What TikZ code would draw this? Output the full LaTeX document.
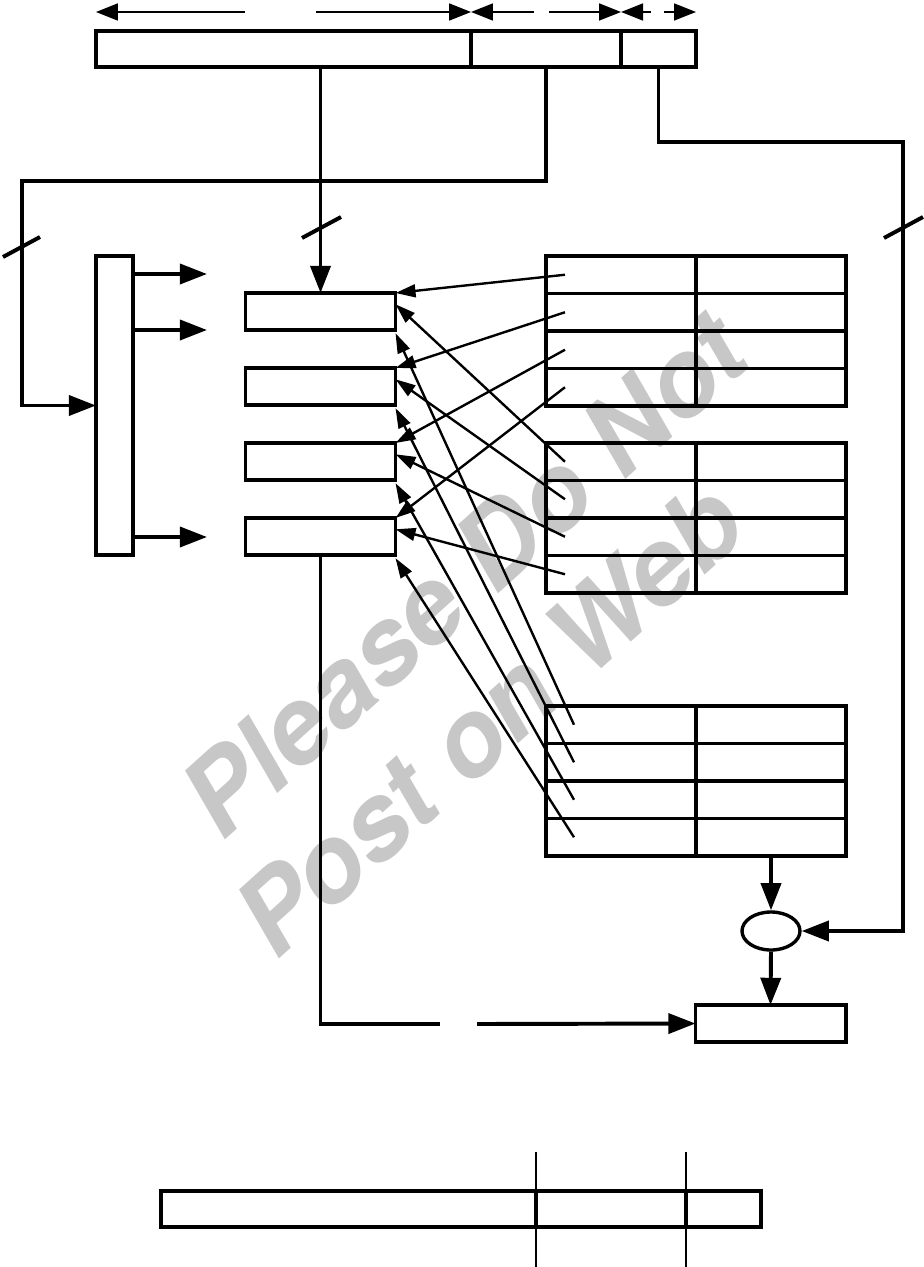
\documentclass[tikz,border=0pt]{standalone}
\usepackage{fontspec}
\usepackage{tikz}
\usetikzlibrary{arrows.meta,shapes.geometric}
\newfontfamily\wmfont{TeX Gyre Heros}

\begin{document}
\begin{tikzpicture}[x=0.025cm, y=-0.025cm, line join=miter,
  bus/.style={line width=2.8pt, >={Triangle[length=0.68cm,width=0.5cm]}},
  dimline/.style={line width=1.7pt, >={Triangle[length=0.55cm,width=0.42cm]}},
  feed/.style={line width=1.7pt, >={Triangle[length=0.5cm,width=0.32cm]}, ->},
  field/.style={draw, line width=2.8pt, minimum height=0.9cm, inner sep=0pt, outer sep=0pt},
  slot/.style={draw, line width=2.8pt, minimum width=3.75cm, minimum height=0.925cm, inner sep=0pt, outer sep=0pt},
  cell/.style={slot, minimum height=0.9375cm},
  watermark/.style={text=black!22, rotate=42, inner sep=0pt, anchor=base west,
    font=\wmfont\bfseries\itshape\fontsize{76}{80}\selectfont}]

\useasboundingbox (0,0) rectangle (924,1267);

% Watermark
\node[watermark] (wm1) at (222,843) {Please Do Not};
\node[watermark] (wm2) at (276,962) {Post on Web};

% Address fields
\node[field, minimum width=9.375cm] (tag) at (283.5,49) {};
\node[field, minimum width=3.75cm] (idx) at (546,49) {};
\node[field, minimum width=1.875cm] (off) at (658.5,49) {};

% Field widths
\coordinate (g1) at (245,12);
\coordinate (g2) at (316,12);
\coordinate (g3) at (534,12);
\coordinate (g4) at (549,12);
\coordinate (g5) at (651,12);
\coordinate (g6) at (664,12);
\draw[dimline, <-] (tag.west |- g1) -- (g1);
\draw[dimline, ->] (g2) -- (tag.east |- g2);
\draw[dimline, <-] (idx.west |- g3) -- (g3);
\draw[dimline, ->] (g4) -- (idx.east |- g4);
\draw[dimline, <-] (off.west |- g5) -- (g5);
\draw[dimline, ->] (g6) -- (off.east |- g6);

% Decoder
\node[draw, line width=2.8pt, minimum width=0.925cm, minimum height=7.475cm,
  inner sep=0pt, outer sep=0pt] (dec) at (114.5,405.5) {};
\coordinate (o1) at (207,274);
\coordinate (o2) at (207,330);
\coordinate (o3) at (207,537);
\foreach \o in {o1,o2,o3}
  \draw[bus, ->] (dec.east |- \o) -- (\o);

% Selected slots
\foreach \i in {1,...,4}
  \node[slot] (b\i) at (320.5,{236.5+75*\i}) {};

% Tables
\foreach \tb/\ty in {1/256,2/443,3/706}
  \foreach \r in {1,...,4} {
    \node[cell] (t\tb-a\r) at (621,{\ty+37.5*\r-18.75}) {};
    \node[cell] (t\tb-b\r) at (771,{\ty+37.5*\r-18.75}) {};
  }

\foreach \i in {1,...,4} {
  \draw[feed] ([xshift=-1.4cm]t1-a\i.center) -- (b\i.north east);
  \draw[feed] ([xshift=-1.4cm]t2-a\i.center) -- ([yshift=0.18cm]b\i.east);
  \draw[feed] ([xshift=-1.175cm]t3-a\i.center) -- ([yshift=-0.08cm]b\i.south east);
}

% Compare and result
\node[draw, ellipse, line width=2.4pt, minimum width=1.45cm, minimum height=0.95cm,
  inner sep=0pt] (cmp) at (771,931) {};
\node[slot] (res) at (770.5,1023.5) {};
\draw[bus, ->] (t3-b4.south) -- (cmp.north);
\draw[bus, ->] (cmp.south) -- (res.north);

% Buses from the fields
\coordinate (lk) at (22,181);
\coordinate (rk) at (903,142);
\draw[bus, ->] (tag.south -| b1.north) -- (b1.north);
\draw[bus, ->] (idx.south) |- (lk) |- (dec.west);
\draw[bus, ->] (off.south) |- (rk) |- (cmp.east);

% Slashes on the buses
\draw[bus] (302,238) -- (341,217);
\draw[bus] (3,257) -- (40,237);
\draw[bus] (884,238) -- (923,217);

% Slot to result
\coordinate (ga) at (440,1024);
\coordinate (gb) at (477,1024);
\draw[bus] (b4.south) |- (ga);
\draw[bus, ->] (gb) -- (res.west);

% Second address
\node[field, minimum width=9.375cm] (btag) at (348.5,1209) {};
\node[field, minimum width=3.75cm] (bidx) at (611,1209) {};
\node[field, minimum width=1.875cm] (boff) at (723.5,1209) {};
\draw[line width=1.7pt] (btag.east |- 0,1152) -- (btag.east |- 0,1267);
\draw[line width=1.7pt] (bidx.east |- 0,1152) -- (bidx.east |- 0,1267);

\end{tikzpicture}
\end{document}
